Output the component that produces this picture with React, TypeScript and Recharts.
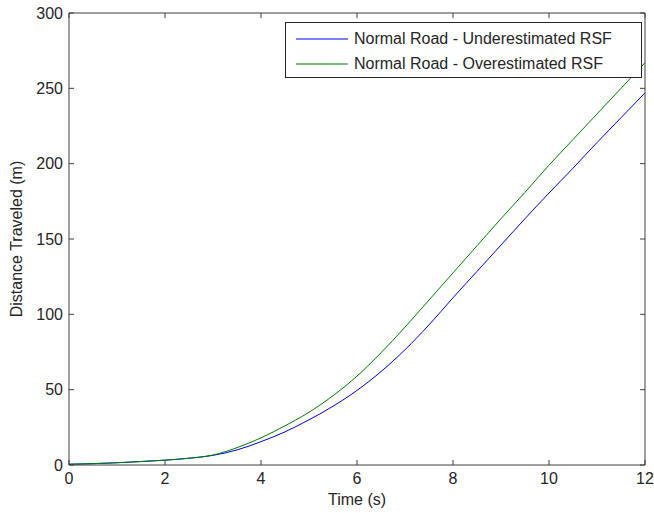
import React from "react";
import { LineChart, Line, XAxis, YAxis } from "recharts";

const timeS = [0, 0.5, 1, 1.5, 2, 2.5, 3, 3.5, 4, 4.5, 5, 5.5, 6, 6.5, 7, 7.5, 8, 8.5, 9, 9.5, 10, 10.5, 11, 11.5, 12];
const underRSF = [0.5, 0.9, 1.5, 2.3, 3.2, 4.5, 6.4, 10, 15.5, 22, 30, 39, 49.5, 62, 76.5, 93, 111, 128.5, 146, 163.5, 180.5, 197, 214, 230.5, 247];
const overRSF = [0.5, 0.9, 1.5, 2.3, 3.2, 4.5, 6.6, 11.5, 18, 26, 35, 46, 59, 74.5, 91.5, 109.5, 127.5, 145.5, 163.5, 181, 199, 216, 233, 250, 267];
const xTicks = [0, 2, 4, 6, 8, 10, 12];
const yTicks = [0, 50, 100, 150, 200, 250, 300];

const seriesNames = ["Normal Road - Underestimated RSF", "Normal Road - Overestimated RSF"];
const seriesColors = ["#0000ff", "#008000"];

const data = timeS.map((t, i) => ({ t, under: underRSF[i], over: overRSF[i] }));

const font = "'Liberation Sans', Arial, sans-serif";
const axisColor = "#404040";
const textColor = "#262626";
const TICK = 5;

// inward MATLAB-style tick marks, drawn from the axis line into the plot
const makeTick = (side: "bottom" | "top" | "left" | "right", margin: number, label: boolean) => (props: any) => {
  const { x, y, payload } = props;
  let line;
  let text = null;
  if (side === "bottom") {
    const ay = y - TICK - margin;
    line = <line x1={x} x2={x} y1={ay} y2={ay - TICK} stroke={axisColor} />;
    if (label)
      text = (
        <text x={x} y={y} dy="0.71em" textAnchor="middle" fill={textColor} fontSize={16} fontFamily={font}>
          {payload.value}
        </text>
      );
  } else if (side === "top") {
    const ay = y + TICK + margin;
    line = <line x1={x} x2={x} y1={ay} y2={ay + TICK} stroke={axisColor} />;
  } else if (side === "left") {
    const ax = x + TICK + margin;
    line = <line x1={ax} x2={ax + TICK} y1={y} y2={y} stroke={axisColor} />;
    if (label)
      text = (
        <text x={x} y={y} dy="0.355em" textAnchor="end" fill={textColor} fontSize={16} fontFamily={font}>
          {payload.value}
        </text>
      );
  } else {
    const ax = x - TICK - margin;
    line = <line x1={ax} x2={ax - TICK} y1={y} y2={y} stroke={axisColor} />;
  }
  return (
    <g>
      {line}
      {text}
    </g>
  );
};

const LegendBox = () => (
  <div
    style={{
      position: "absolute",
      left: 285,
      top: 22,
      border: "1px solid #262626",
      background: "#fff",
      width: 357,
      height: 56,
      boxSizing: "border-box",
      fontFamily: font,
      fontSize: 16,
      color: textColor,
      paddingTop: 3,
    }}
  >
    {seriesNames.map((n, i) => (
      <div key={n} style={{ display: "flex", alignItems: "center", height: 25 }}>
        <svg width={52} height={4} style={{ marginLeft: 10, marginRight: 6 }}>
          <line x1={0} x2={52} y1={2} y2={2} stroke={seriesColors[i]} strokeWidth={1} />
        </svg>
        <span>{n}</span>
      </div>
    ))}
  </div>
);

export default function App() {
  return (
    <div style={{ position: "absolute", left: 0, top: 0, width: 654, height: 513, background: "#fff" }}>
      <LineChart width={654} height={513} data={data} margin={{ top: 12, right: 8, left: 0, bottom: 0 }}>
        <XAxis
          dataKey="t"
          type="number"
          domain={[0, 12]}
          ticks={xTicks}
          height={48}
          stroke={axisColor}
          tickLine={false}
          tickSize={TICK}
          tickMargin={3}
          tick={makeTick("bottom", 3, true)}
          label={{ value: "Time (s)", position: "insideBottom", offset: 8, fill: textColor, fontSize: 16, fontFamily: font }}
        />
        <XAxis
          xAxisId="top"
          orientation="top"
          dataKey="t"
          type="number"
          domain={[0, 12]}
          ticks={xTicks}
          height={1}
          stroke={axisColor}
          tickLine={false}
          tickSize={TICK}
          tickMargin={2}
          tick={makeTick("top", 2, false)}
        />
        <YAxis
          type="number"
          domain={[0, 300]}
          ticks={yTicks}
          width={69}
          stroke={axisColor}
          tickLine={false}
          tickSize={TICK}
          tickMargin={1}
          tick={makeTick("left", 1, true)}
          label={{
            value: "Distance Traveled (m)",
            angle: -90,
            position: "insideLeft",
            offset: 16,
            style: { textAnchor: "middle" },
            fill: textColor,
            fontSize: 16,
            fontFamily: font,
          }}
        />
        <YAxis
          yAxisId="right"
          orientation="right"
          type="number"
          domain={[0, 300]}
          ticks={yTicks}
          width={1}
          stroke={axisColor}
          tickLine={false}
          tickSize={TICK}
          tickMargin={2}
          tick={makeTick("right", 2, false)}
        />
        <Line
          type="monotone"
          dataKey="under"
          name={seriesNames[0]}
          stroke={seriesColors[0]}
          strokeWidth={1}
          dot={false}
          isAnimationActive={false}
        />
        <Line
          type="monotone"
          dataKey="over"
          xAxisId="top"
          yAxisId="right"
          name={seriesNames[1]}
          stroke={seriesColors[1]}
          strokeWidth={1}
          dot={false}
          isAnimationActive={false}
        />
      </LineChart>
      <LegendBox />
    </div>
  );
}
